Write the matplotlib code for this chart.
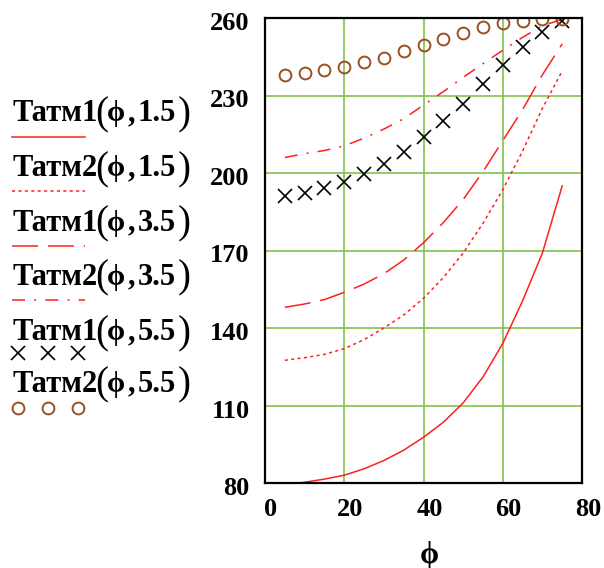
import matplotlib
matplotlib.use('Agg')
import matplotlib.pyplot as plt
import matplotlib.transforms as mtransforms

# ---- data ----
phi = [5, 10, 15, 20, 25, 30, 35, 40, 45, 50, 55, 60, 65, 70, 75]
tatm1_15 = [79, 80.3, 81.5, 83, 85.5, 88.7, 92.7, 97.7, 103.5, 111, 121, 134, 150.5, 169, 195]
tatm2_15 = [127.5, 128.5, 129.8, 132, 135.5, 140, 145, 151.5, 159.5, 169, 180.5, 193.5, 208.5, 225, 239.5]
tatm1_35 = [148, 149.3, 151, 153.8, 157, 161, 166.3, 173, 180.8, 189.7, 200.5, 212.5, 224.5, 238, 250]
tatm2_35 = [206, 207.5, 208.7, 210.5, 213.5, 217, 221, 226.3, 231.5, 237, 242.3, 247.5, 252.5, 257, 259.5]
tatm1_55 = [191.2, 192.4, 194.1, 196.6, 199.6, 203.5, 208.2, 213.8, 220.1, 226.7, 234.4, 241.8, 248.7, 254.7, 259]
tatm2_55 = [237.9, 238.6, 239.9, 240.9, 242.8, 244.6, 247.1, 249.7, 252, 254.1, 256.4, 258, 258.8, 259.5, 259.5]

series_names = ['Татм1', 'Татм2', 'Татм1', 'Татм2', 'Татм1', 'Татм2']
series_args = ['1.5', '1.5', '3.5', '3.5', '5.5', '5.5']
x_ticks = [0, 20, 40, 60, 80]
y_ticks = [80, 110, 140, 170, 200, 230, 260]
x_label = 'ϕ'

# ---- styles ----
RED = '#ff1f1f'
BROWN = '#9a4f22'
GRID = '#7fc24e'
FAM = ['Liberation Serif', 'DejaVu Serif']
LW = 1.1

styles = [
    dict(color=RED, lw=LW, ls='-'),
    dict(color=RED, lw=LW, ls=(0, (2.0, 2.2))),
    dict(color=RED, lw=LW, ls=(0, (17, 6.5))),
    dict(color=RED, lw=LW, ls=(0, (8.5, 6, 1.3, 6))),
    dict(color='black', lw=0, marker='x', ms=9.4, mew=1.2),
    dict(color=BROWN, lw=0, marker='o', ms=8.5, mfc='none', mew=1.4),
]
series = [tatm1_15, tatm2_15, tatm1_35, tatm2_35, tatm1_55, tatm2_55]

W, H = 604, 568
fig = plt.figure(figsize=(W / 100, H / 100), dpi=100)

# main plot
L, R, T, B = 265, 582, 18, 483
ax = fig.add_axes([L / W, 1 - B / H, (R - L) / W, (B - T) / H])
for ys, st in zip(series, styles):
    ax.plot(phi, ys, **st)

ax.set_xlim(0, 80)
ax.set_ylim(80, 260)
ax.set_xticks(x_ticks)
ax.set_yticks(y_ticks)
ax.set_xticklabels([str(v) for v in x_ticks], fontsize=19, family=FAM, weight='bold')
ax.set_yticklabels([str(v) for v in y_ticks], fontsize=19, family=FAM, weight='bold')
ax.tick_params(length=0)
ax.tick_params(axis='y', pad=11)
ax.tick_params(axis='x', pad=11)
xoff = mtransforms.ScaledTranslation(6 / 100, 0, fig.dpi_scale_trans)
for lab in ax.get_xticklabels():
    lab.set_transform(lab.get_transform() + xoff)
yoff = mtransforms.ScaledTranslation(0, -3 / 100, fig.dpi_scale_trans)
for lab in ax.get_yticklabels():
    lab.set_transform(lab.get_transform() + yoff)
ax.grid(True, color=GRID, lw=1.2)
ax.set_axisbelow(True)
for sp in ax.spines.values():
    sp.set_linewidth(1.6)
    sp.set_color('black')
ax.set_xlabel(x_label, fontsize=22, family=FAM, weight='bold', va='center')
ax.xaxis.set_label_coords((429.5 - L) / (R - L), 1 - 555 / H,
                          transform=mtransforms.blended_transform_factory(ax.transAxes, fig.transFigure))

# legend area (pixel coordinates of the figure)
leg = fig.add_axes([0, 0, 1, 1], zorder=-1)
leg.set_xlim(0, W)
leg.set_ylim(H, 0)
leg.axis('off')

text_centers = [111, 166, 220.5, 274.5, 330, 381.7]
sample_ys = [136.7, 191, 245.7, 300, 353.3, 408.3]
FS = 22
cap = 0.662 * FS * 100 / 72
for name, arg, st, tc, sy in zip(series_names, series_args, styles, text_centers, sample_ys):
    if st.get('marker'):
        leg.plot([18.3, 48.3, 78.3], [sy] * 3, **st)
    else:
        leg.plot([12, 85], [sy, sy], **st)
    base = tc + cap / 2
    pieces = [(name, FS, 'bold', 12.5), ('(', 28, 'normal', 95.5), ('ϕ', 21, 'bold', 106.5),
              (',', FS, 'bold', 128), (arg, FS, 'bold', 138), (')', 28, 'normal', 177.5)]
    for txt, fs, wt, x in pieces:
        leg.text(x, base + (3 if txt in '()' else 0), txt, fontsize=fs, family=FAM, weight=wt,
                 ha='left', va='baseline')

fig.savefig('out.png', dpi=100)
